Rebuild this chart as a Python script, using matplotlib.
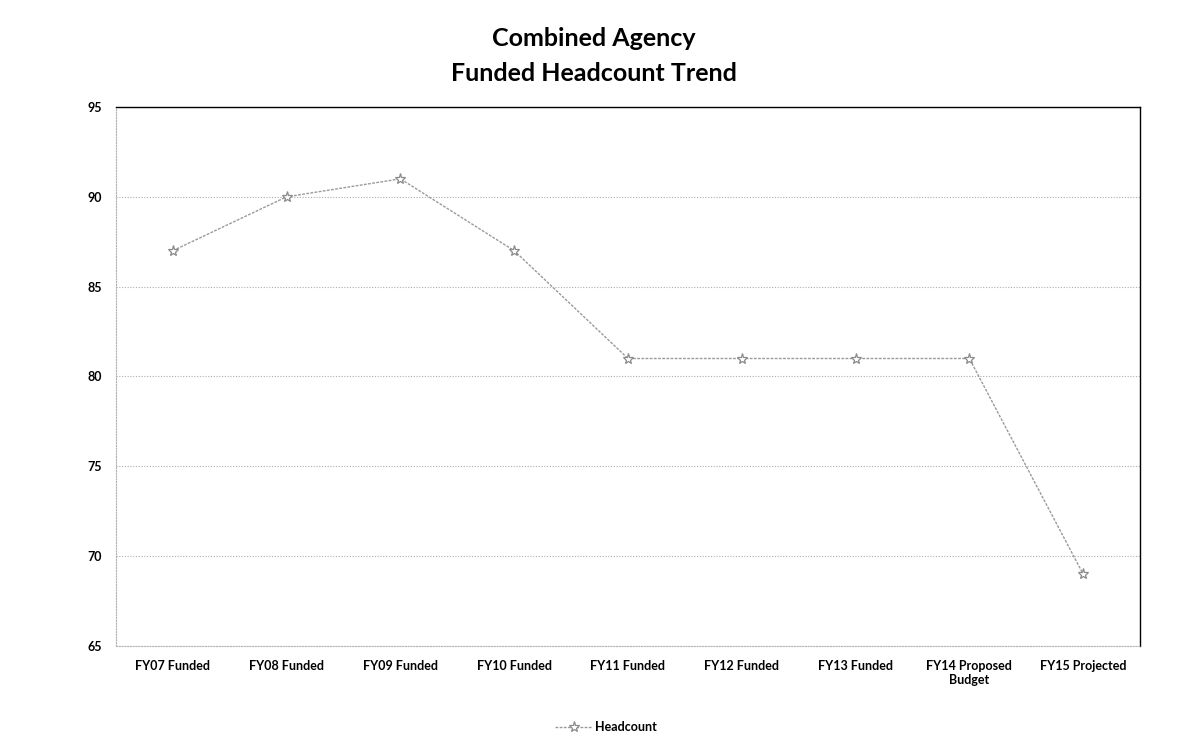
import matplotlib
matplotlib.use('Agg')
import matplotlib.pyplot as plt

# values
categories = ['FY07 Funded', 'FY08 Funded', 'FY09 Funded', 'FY10 Funded',
              'FY11 Funded', 'FY12 Funded', 'FY13 Funded',
              'FY14 Proposed\nBudget', 'FY15 Projected']
headcount = [87, 90, 91, 87, 81, 81, 81, 81, 69]
yticks = [65, 70, 75, 80, 85, 90, 95]

plt.rcParams['font.family'] = ['Lato', 'DejaVu Sans']

fig = plt.figure(figsize=(11.83, 7.48), dpi=100)
ax = fig.add_axes([0.098, 0.1364, 0.8657, 0.7206])

x = list(range(len(categories)))
ax.plot(x, headcount, color='#9a9a9a', lw=1.0, ls=(0, (2, 1)),
        marker='*', ms=8, mfc='white', mec='#8a8a8a', mew=0.9,
        label='Headcount', zorder=3)

ax.set_xlim(-0.5, len(categories) - 0.5)
ax.set_ylim(65, 95)
ax.set_yticks(yticks)
ax.set_xticks(x)
ax.set_xticklabels(categories, fontsize=9, fontweight='bold')
for lab in ax.get_yticklabels():
    lab.set_fontsize(9)
    lab.set_fontweight('bold')
ax.tick_params(length=0, pad=10)
ax.tick_params(axis='y', pad=10)

ax.grid(axis='y', color='#adadad', lw=0.8, ls=(0, (1, 1.5)))
ax.set_axisbelow(True)

ax.spines['top'].set_color('black')
ax.spines['top'].set_linewidth(1.0)
ax.spines['right'].set_color('black')
ax.spines['right'].set_linewidth(1.0)
ax.spines['left'].set_color('#b0b0b0')
ax.spines['left'].set_linestyle((0, (1, 1.5)))
ax.spines['bottom'].set_color('#b5b5b5')
ax.spines['bottom'].set_linestyle((0, (1, 1.5)))

fig.text(0.502, 0.925, 'Combined Agency\nFunded Headcount Trend',
         ha='center', va='center', fontsize=18, fontweight='bold',
         linespacing=1.6)

leg = fig.legend(loc='center', bbox_to_anchor=(0.512, 0.028), frameon=False,
                 prop={'size': 9, 'weight': 'bold'}, handlelength=3,
                 handletextpad=0.2)

fig.savefig('out.png', dpi=100)
